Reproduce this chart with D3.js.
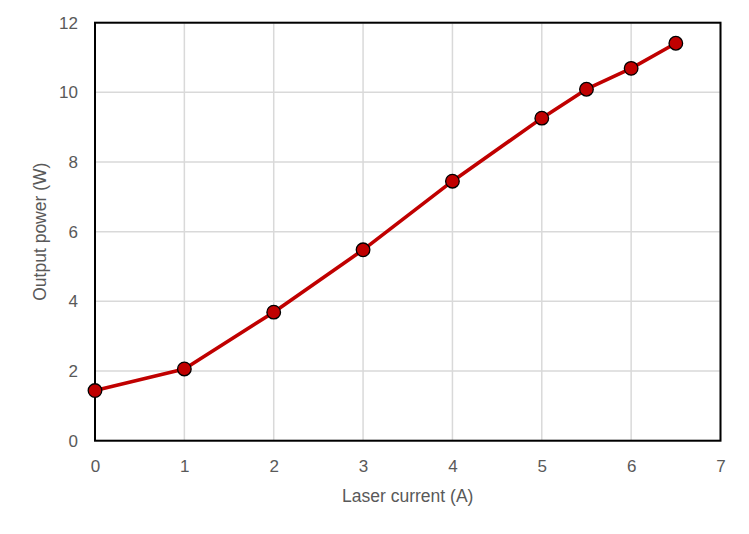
<!DOCTYPE html>
<html>
<head>
<meta charset="utf-8">
<script src="https://cdn.jsdelivr.net/npm/d3@7"></script>
<style>
  body { margin: 0; background: #fff; }
  text { font-family: "Liberation Sans", Arial, sans-serif; fill: #595959; }
</style>
</head>
<body>
<div id="chart"></div>
<script>
// data
var currents = [0, 1, 2, 3, 4, 5, 5.5, 6, 6.5];
var powers = [1.44, 2.06, 3.69, 5.48, 7.45, 9.26, 10.09, 10.69, 11.41];
var xTicks = [0, 1, 2, 3, 4, 5, 6, 7];
var yTicks = [0, 2, 4, 6, 8, 10, 12];

var svgWidth = 749;
var svgHeight = 534;

var margin = { top: 22.7, right: 28.5, bottom: 93.3, left: 95 };
var width = svgWidth - margin.left - margin.right;
var height = svgHeight - margin.top - margin.bottom;

var svg = d3.select("#chart")
  .append("svg")
  .attr("width", svgWidth)
  .attr("height", svgHeight);

var chartGroup = svg.append("g")
  .attr("transform", `translate(${margin.left}, ${margin.top})`);

var xScale = d3.scaleLinear().domain([0, 7]).range([0, width]);
var yScale = d3.scaleLinear().domain([0, 12]).range([height, 0]);

// gridlines
chartGroup.selectAll(".vgrid")
  .data(xTicks)
  .enter()
  .append("line")
  .attr("x1", d => xScale(d))
  .attr("x2", d => xScale(d))
  .attr("y1", 0)
  .attr("y2", height)
  .attr("stroke", "#d9d9d9")
  .attr("stroke-width", 1.5);

chartGroup.selectAll(".hgrid")
  .data(yTicks)
  .enter()
  .append("line")
  .attr("x1", 0)
  .attr("x2", width)
  .attr("y1", d => yScale(d))
  .attr("y2", d => yScale(d))
  .attr("stroke", "#d9d9d9")
  .attr("stroke-width", 1.5);

// plot border
chartGroup.append("rect")
  .attr("width", width)
  .attr("height", height)
  .attr("fill", "none")
  .attr("stroke", "#000")
  .attr("stroke-width", 2);

// axes (labels only)
var xAxis = d3.axisBottom(xScale).tickValues(xTicks).tickFormat(d3.format("d"))
  .tickSize(0).tickPadding(19);
var yAxis = d3.axisLeft(yScale).tickValues(yTicks).tickFormat(d3.format("d"))
  .tickSize(0).tickPadding(17);

var gx = chartGroup.append("g")
  .attr("transform", `translate(0, ${height})`)
  .call(xAxis);
var gy = chartGroup.append("g")
  .call(yAxis);

[gx, gy].forEach(function(g) {
  g.select(".domain").remove();
  g.attr("font-size", 17).attr("font-family", null);
  g.selectAll("text").attr("fill", "#595959");
});

// line
var points = currents.map((c, i) => ({ x: c, y: powers[i] }));

var line = d3.line()
  .x(d => xScale(d.x))
  .y(d => yScale(d.y));

chartGroup.append("path")
  .datum(points)
  .attr("d", line)
  .attr("fill", "none")
  .attr("stroke", "#c00000")
  .attr("stroke-width", 3.6)
  .attr("stroke-linejoin", "round");

chartGroup.selectAll("circle")
  .data(points)
  .enter()
  .append("circle")
  .attr("cx", d => xScale(d.x))
  .attr("cy", d => yScale(d.y))
  .attr("r", 6.8)
  .attr("fill", "#c00000")
  .attr("stroke", "#000")
  .attr("stroke-width", 1.3);

// axis titles
chartGroup.append("text")
  .attr("x", width / 2)
  .attr("y", height + 61)
  .attr("text-anchor", "middle")
  .attr("font-size", 17.5)
  .text("Laser current (A)");

chartGroup.append("text")
  .attr("transform", "rotate(-90)")
  .attr("x", -height / 2)
  .attr("y", -49)
  .attr("text-anchor", "middle")
  .attr("font-size", 17.5)
  .text("Output power (W)");
</script>
</body>
</html>
